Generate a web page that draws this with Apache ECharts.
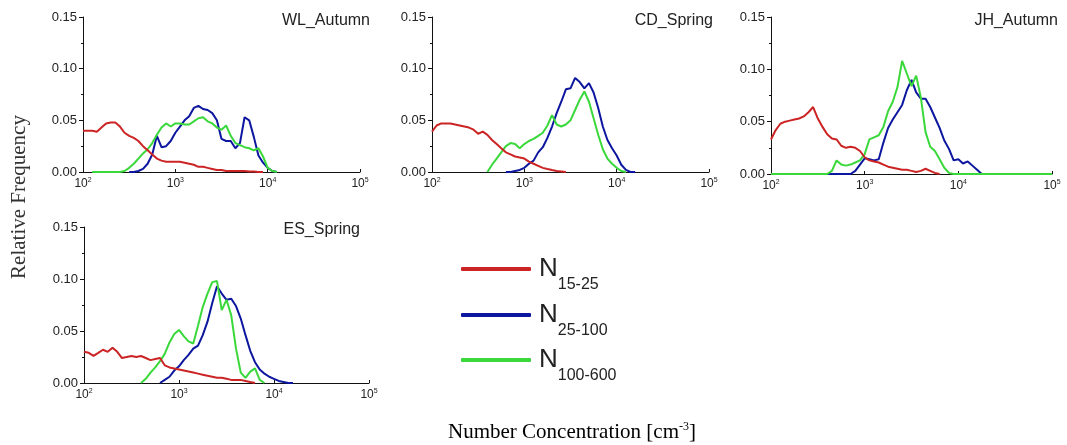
<!DOCTYPE html>
<html><head><meta charset="utf-8">
<script src="https://cdn.jsdelivr.net/npm/echarts@6/dist/echarts.min.js"></script>
<style>html,body{margin:0;padding:0;background:#fff}#c{width:1067px;height:445px}</style>
</head><body><div id="c"></div>
<script>
// bin centres (cm^-3), 20 bins per decade
const xs = [100,112.2,125.9,141.3,158.5,177.8,199.5,223.9,251.2,281.8,316.2,354.8,398.1,446.7,501.2,562.3,631,707.9,794.3,891.3,
  1000,1122,1259,1413,1585,1778,1995,2239,2512,2818,3162,3548,3981,4467,5012,5623,6310,7079,7943,8913,
  10000,11220,12589,14125,15849,17783,19953,22387,25119,28184,31623,35481,39811,44668,50119,56234,63096,70795,79433,89125,100000];

const panelTitles = ['WL_Autumn','CD_Spring','JH_Autumn','ES_Spring'];
const seriesNames = ['N15-25','N25-100','N100-600'];

const wlRed = [0.040,0.040,0.040,0.039,0.043,0.047,0.048,0.048,0.044,0.038,0.035,0.033,0.030,0.025,0.021,0.017,0.013,0.011,0.010,0.010,0.010,0.010,0.009,0.008,0.007,0.005,0.005,0.004,0.003,0.002,0.002,0.001,0.001,0.001,0.001,0.001,0.0005,0.0005,0,0];
const wlBlue = [null,null,null,null,null,null,null,null,null,null,0,0,0.001,0.003,0.008,0.017,0.035,0.024,0.025,0.030,0.038,0.044,0.050,0.054,0.062,0.064,0.061,0.060,0.057,0.050,0.032,0.030,0.030,0.023,0.028,0.053,0.050,0.034,0.016,0.009,0.004,0.001,0];
const wlGreen = [null,null,0,0,0,0,0,0,0,0.001,0.004,0.008,0.013,0.018,0.022,0.028,0.036,0.043,0.047,0.044,0.047,0.047,0.046,0.046,0.049,0.052,0.053,0.049,0.047,0.043,0.041,0.045,0.035,0.028,0.026,0.024,0.023,0.021,0.023,0.015,0.004,0.001,0];

const cdRed = [0.039,0.045,0.047,0.047,0.047,0.046,0.045,0.044,0.043,0.041,0.037,0.039,0.036,0.031,0.027,0.023,0.019,0.017,0.015,0.014,0.013,0.010,0.008,0.006,0.004,0.003,0.002,0.001,0.0005,0];
const cdBlue = [null,null,null,null,null,null,null,null,null,null,null,null,null,null,null,null,0,0,0.001,0.002,0.004,0.008,0.011,0.019,0.024,0.033,0.044,0.057,0.068,0.080,0.081,0.091,0.087,0.081,0.086,0.077,0.062,0.044,0.031,0.023,0.016,0.007,0.002,0,0];
const cdGreen = [null,null,null,null,null,null,null,null,null,null,null,null,0,0.007,0.013,0.019,0.025,0.028,0.027,0.023,0.027,0.030,0.032,0.035,0.038,0.045,0.055,0.046,0.044,0.046,0.050,0.060,0.070,0.078,0.068,0.052,0.036,0.022,0.013,0.008,0.004,0.001,0];

const jhRed = [0.033,0.042,0.048,0.050,0.051,0.052,0.053,0.055,0.059,0.064,0.053,0.045,0.038,0.034,0.033,0.027,0.025,0.026,0.025,0.022,0.016,0.013,0.012,0.011,0.009,0.007,0.006,0.005,0.004,0.004,0.003,0.002,0.003,0.005,0.003,0.001,0];
const jhBlue = [null,null,null,null,null,null,null,null,null,null,null,null,0,0,0,0,0,0,0.003,0.009,0.015,0.014,0.013,0.014,0.030,0.044,0.052,0.059,0.066,0.080,0.090,0.078,0.072,0.072,0.064,0.054,0.044,0.032,0.024,0.013,0.014,0.010,0.012,0.008,0.004,0];
const jhGreen = [0,0,0,0,0,0,0,0,0,0,0,0,0,0.003,0.013,0.009,0.008,0.009,0.011,0.013,0.019,0.033,0.035,0.037,0.045,0.060,0.069,0.083,0.108,0.096,0.084,0.094,0.073,0.040,0.026,0.022,0.014,0.006,0.001,0,0,0,0,0,0,0,0,0,0,0,0,0,0,0,0,0,0,0,0,0,0];

const esRed = [0.030,0.029,0.026,0.029,0.032,0.030,0.034,0.030,0.024,0.025,0.026,0.025,0.026,0.024,0.022,0.023,0.024,0.017,0.015,0.014,0.013,0.012,0.011,0.010,0.009,0.008,0.007,0.006,0.005,0.005,0.004,0.003,0.003,0.003,0.002,0.001,0];
const esBlue = [null,null,null,null,null,null,null,null,null,null,null,null,null,null,null,null,0,0.003,0.006,0.012,0.016,0.022,0.027,0.033,0.036,0.046,0.059,0.077,0.093,0.086,0.080,0.081,0.074,0.062,0.046,0.031,0.020,0.013,0.009,0.006,0.004,0.002,0.001,0,0];
const esGreen = [null,null,null,null,null,null,null,null,null,null,null,null,0,0.004,0.010,0.015,0.021,0.028,0.039,0.047,0.051,0.045,0.040,0.038,0.055,0.073,0.086,0.097,0.098,0.070,0.080,0.065,0.033,0.010,0.005,0.011,0.014,0.003,0];

const yTicks = [0, 0.05, 0.10, 0.15];

const panelData = [[wlRed,wlBlue,wlGreen],[cdRed,cdBlue,cdGreen],[jhRed,jhBlue,jhGreen],[esRed,esBlue,esGreen]];
const colors = ['#cc2424','#0c169e','#3ad83a'];

const grids = [
  {left:83, top:17, width:277, height:155},
  {left:432, top:17, width:277, height:155},
  {left:771, top:17, width:281, height:157},
  {left:84, top:227, width:285, height:156}
];
const titlePos = [{right:697, top:13},{right:354, top:13},{right:9, top:13},{right:707, top:222}];

const pairs = arr => xs.map((x,i)=>[x, arr[i]]).filter(p => p[1] !== null && p[1] !== undefined);

const xAxes = grids.map((g,i)=>({
  gridIndex:i, type:'log', logBase:10, min:100, max:100000,
  axisLine:{show:true, onZero:false, lineStyle:{color:'#111', width:1}},
  axisTick:{show:true, inside:true, length:3, lineStyle:{color:'#111'}},
  splitLine:{show:false},
  axisLabel:{margin:5, color:'#222',
    formatter: v => '{b|10}{s|' + Math.round(Math.log10(v)) + '}',
    rich:{b:{fontSize:12, fontFamily:'Arial', color:'#222', lineHeight:14},
          s:{fontSize:7, fontFamily:'Arial', color:'#222', lineHeight:8, verticalAlign:'top'}}}
}));
const yAxes = grids.map((g,i)=>({
  gridIndex:i, type:'value', min:yTicks[0], max:yTicks[yTicks.length-1], interval:0.05,
  axisLine:{show:true, lineStyle:{color:'#111', width:1}},
  axisTick:{show:true, length:4, lineStyle:{color:'#111'}},
  minorTick:{show:true, splitNumber:2, length:2, lineStyle:{color:'#111'}},
  splitLine:{show:false},
  axisLabel:{margin:6, color:'#222', fontSize:13, fontFamily:'Arial', formatter: v => v.toFixed(2)}
}));

const series = [];
panelData.forEach((set,pi)=>{
  set.forEach((arr,si)=>{
    series.push({name:seriesNames[si], type:'line', xAxisIndex:pi, yAxisIndex:pi,
      data:pairs(arr), showSymbol:false, symbol:'none', smooth:false,
      lineStyle:{color:colors[si], width:2}, itemStyle:{color:colors[si]}, animation:false, z: si===0?3:2});
  });
});

const legendTops = [256, 302, 347];
const legends = seriesNames.map((n,i)=>({
  data:[n], left:461, top:legendTops[i], padding:0, orient:'vertical',
  icon:'roundRect', itemWidth:70, itemHeight:4, selectedMode:false,
  formatter: name => '{n|N}{s|' + name.slice(1) + '}{e| }',
  textStyle:{color:'#222', fontFamily:'Arial',
    rich:{n:{fontSize:26, fontFamily:'Arial', color:'#222', lineHeight:30, verticalAlign:'middle', padding:[0,0,0,3]},
          s:{fontSize:16, fontFamily:'Arial', color:'#222', lineHeight:18, verticalAlign:'bottom'},
          e:{fontSize:1, lineHeight:48}}}
}));

const chart = echarts.init(document.getElementById('c'), null, {renderer:'canvas'});
chart.setOption({
  animation:false,
  backgroundColor:'#fff',
  grid:grids,
  xAxis:xAxes,
  yAxis:yAxes,
  series:series,
  legend:legends,
  title:panelTitles.map((t,i)=>({text:t, right:titlePos[i].right, top:titlePos[i].top, padding:0,
    textStyle:{fontSize:16, fontWeight:'normal', color:'#222', fontFamily:'Arial'}})),
  graphic:[
    {type:'text', x:19, y:197, rotation:Math.PI/2,
      style:{text:'Relative Frequency', font:'21px "Liberation Serif"', fill:'#333', align:'center', verticalAlign:'middle'}},
    {type:'text', x:572, y:432,
      style:{text:'{a|Number Concentration [cm}{b|-3}{a|]}', align:'center', verticalAlign:'middle',
        rich:{a:{fontSize:21, fontFamily:'Liberation Serif', color:'#333', lineHeight:22},
              b:{fontSize:12, fontFamily:'Liberation Serif', color:'#333', lineHeight:13, verticalAlign:'top'}}}}
  ]
});
</script></body></html>
